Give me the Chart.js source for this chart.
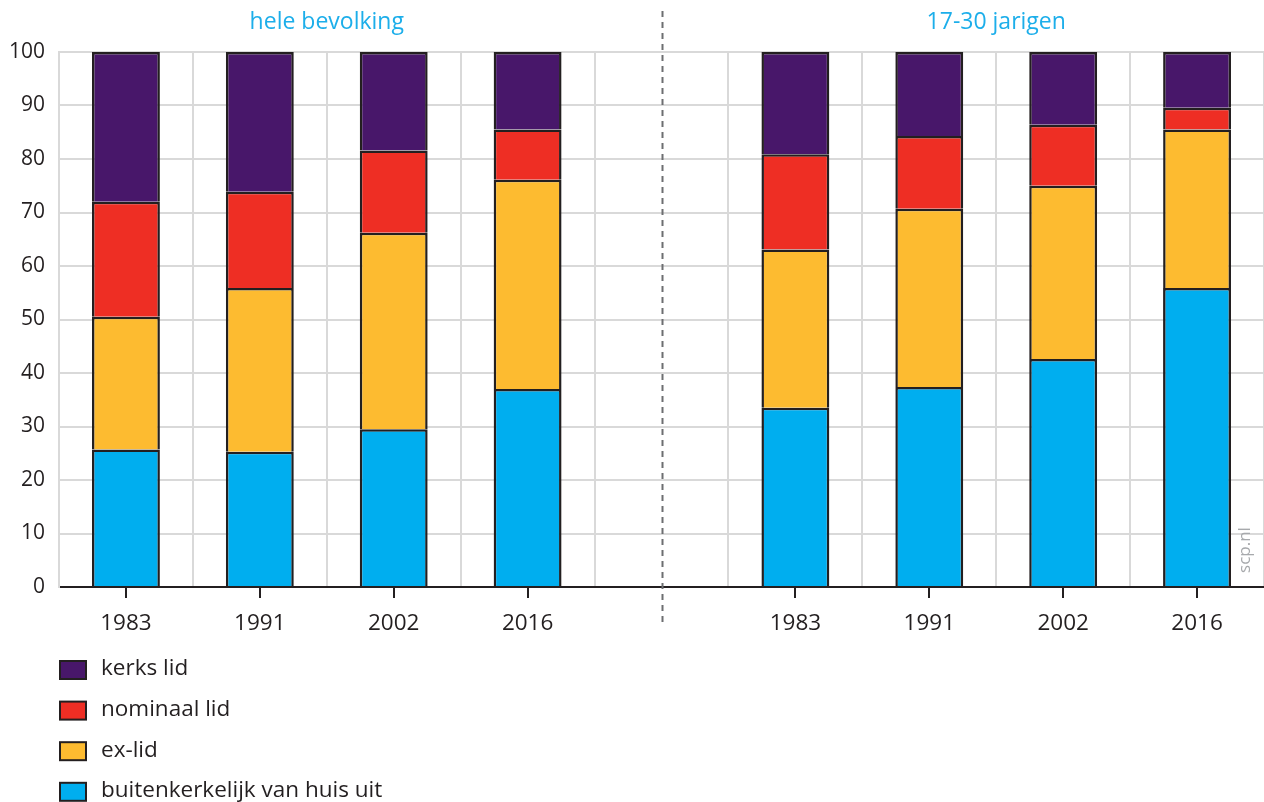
<!DOCTYPE html>
<html lang="nl">
<head>
<meta charset="utf-8">
<title>Kerkelijke gezindte</title>
<script src="https://cdn.jsdelivr.net/npm/chart.js@4.4.1/dist/chart.umd.min.js"></script>
<style>
  html, body { margin: 0; padding: 0; background: #ffffff; }
  canvas { display: block; }
</style>
</head>
<body>
<canvas id="chart" width="1264" height="802"></canvas>
<script>
// Survey years per group; the empty slot in the middle separates the two groups
const categories = ['1983', '1991', '2002', '2016', '', '1983', '1991', '2002', '2016'];
const groupTitles = ['hele bevolking', '17-30 jarigen'];
const yTicks = [0, 10, 20, 30, 40, 50, 60, 70, 80, 90, 100];

// Shares in percent, stacked from bottom to top
const buitenkerkelijk = [25.7, 25.3, 29.5, 37.0, null, 33.5, 37.4, 42.6, 55.9];
const exLid           = [24.8, 30.6, 36.7, 39.1, null, 29.6, 33.3, 32.4, 29.6];
const nominaalLid     = [21.5, 18.0, 15.4,  9.4, null, 17.8, 13.6, 11.4,  4.1];
const kerksLid        = [28.0, 26.1, 18.4, 14.5, null, 19.1, 15.7, 13.6, 10.4];

const seriesLabels = ['buitenkerkelijk van huis uit', 'ex-lid', 'nominaal lid', 'kerks lid'];

const INK = '#231f20';
const GRID = '#d9d9d9';
const TITLE_BLUE = '#1caeea';
const FONT = '"Open Sans", Lato, sans-serif';

Chart.defaults.font.family = FONT;
Chart.defaults.color = INK;

function barSet(label, data, color) {
  return {
    label: label,
    data: data,
    backgroundColor: color,
    borderColor: INK,
    borderWidth: 2.5,
    barPercentage: 0.507,
    categoryPercentage: 1.0
  };
}

// Extra drawing: tick marks under each year, group divider, group titles, source tag, legend
const decor = {
  id: 'decor',
  afterDraw(chart) {
    const ctx = chart.ctx;
    const x = chart.scales.x;
    const area = chart.chartArea;
    ctx.save();

    // tick marks at category centres
    ctx.strokeStyle = INK;
    ctx.lineWidth = 2;
    categories.forEach((c, i) => {
      if (!c) return;
      const px = Math.round(x.getPixelForValue(i));
      ctx.beginPath();
      ctx.moveTo(px, area.bottom);
      ctx.lineTo(px, area.bottom + 11);
      ctx.stroke();
    });

    // dashed divider between the groups
    const midIndex = categories.indexOf('');
    const dx = Math.round(x.getPixelForValue(midIndex)) + 0.5;
    ctx.strokeStyle = '#6d6e71';
    ctx.lineWidth = 2;
    ctx.setLineDash([6, 5]);
    ctx.beginPath();
    ctx.moveTo(dx, 11);
    ctx.lineTo(dx, area.bottom + 38);
    ctx.stroke();
    ctx.setLineDash([]);

    // group titles
    ctx.fillStyle = TITLE_BLUE;
    ctx.font = '23px ' + FONT;
    ctx.textAlign = 'center';
    ctx.textBaseline = 'middle';
    const leftCentre = (x.getPixelForValue(0) + x.getPixelForValue(midIndex - 1)) / 2;
    const rightCentre = (x.getPixelForValue(midIndex + 1) + x.getPixelForValue(categories.length - 1)) / 2;
    ctx.fillText(groupTitles[0], leftCentre, 22);
    ctx.fillText(groupTitles[1], rightCentre, 22);

    // source tag, rotated
    ctx.save();
    ctx.translate(area.right - 19, area.bottom - 37);
    ctx.rotate(-Math.PI / 2);
    ctx.fillStyle = '#a7a9ac';
    ctx.font = '17px ' + FONT;
    ctx.textAlign = 'center';
    ctx.textBaseline = 'middle';
    ctx.fillText('scp.nl', 0, 0);
    ctx.restore();

    // legend, top item is the top of the stack
    const sets = chart.data.datasets.slice().reverse();
    ctx.font = '22.5px ' + FONT;
    ctx.textAlign = 'left';
    ctx.textBaseline = 'middle';
    sets.forEach((ds, k) => {
      const cy = 670 + k * 40.6;
      ctx.fillStyle = INK;
      ctx.fillRect(59, cy - 10, 28, 20);
      ctx.fillStyle = ds.backgroundColor;
      ctx.fillRect(61, cy - 8, 24, 16);
      ctx.fillStyle = INK;
      ctx.fillText(ds.label, 101, cy - 1);
    });

    ctx.restore();
  }
};

new Chart(document.getElementById('chart'), {
  type: 'bar',
  data: {
    labels: categories,
    datasets: [
      barSet(seriesLabels[0], buitenkerkelijk, '#00aeef'),
      barSet(seriesLabels[1], exLid, '#fdbb30'),
      barSet(seriesLabels[2], nominaalLid, '#ee2e24'),
      barSet(seriesLabels[3], kerksLid, '#48176a')
    ]
  },
  options: {
    responsive: false,
    animation: false,
    layout: { padding: { top: 52, bottom: 165, left: 0, right: 0 } },
    plugins: {
      legend: { display: false },
      tooltip: { enabled: false },
      title: { display: false }
    },
    scales: {
      x: {
        stacked: true,
        offset: true,
        grid: { color: GRID, lineWidth: 2, offset: true, drawTicks: false },
        border: { color: INK, width: 2 },
        ticks: {
          padding: 23,
          color: INK,
          font: { size: 22.5 },
          maxRotation: 0,
          autoSkip: false
        },
        afterFit(scale) { scale.height = 50; }
      },
      y: {
        stacked: true,
        min: 0,
        max: 100,
        afterBuildTicks(scale) { scale.ticks = yTicks.map(v => ({ value: v })); },
        grid: { color: GRID, lineWidth: 2, drawTicks: false },
        border: { color: GRID, width: 2 },
        ticks: {
          padding: 14,
          color: INK,
          font: { size: 21 }
        },
        afterFit(scale) { scale.width = 59; }
      }
    }
  },
  plugins: [decor]
});
</script>
</body>
</html>
